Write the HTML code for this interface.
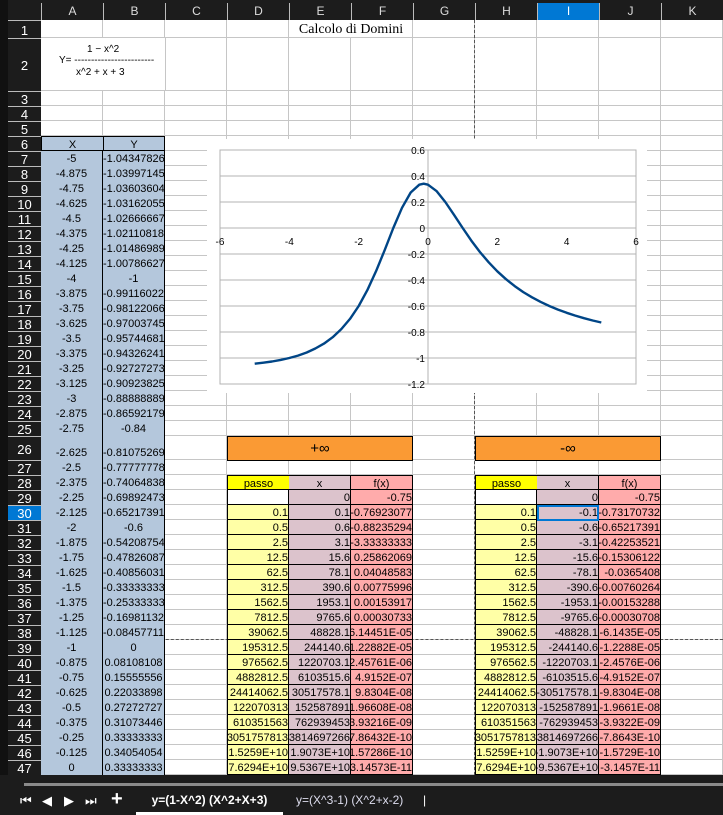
<!DOCTYPE html>
<html><head><meta charset="utf-8">
<style>
html,body{margin:0;padding:0;width:723px;height:815px;overflow:hidden;background:#1c1c1c;font-family:"Liberation Sans",Arial,sans-serif}
#sheet{position:absolute;left:41px;top:20px;width:682px;height:755px;background:#fff;overflow:hidden}
.c{position:absolute;box-sizing:border-box;font-size:11px;color:#000;white-space:nowrap;overflow:hidden;line-height:15px;padding:0 1px}
.r{display:flex;justify-content:flex-end;padding:0}
.g{border-right:1px solid #c6c6c6;border-bottom:1px solid #c6c6c6}
.hd{position:absolute;box-sizing:border-box;color:#ddd;font-size:12px;text-align:center;background:#1c1c1c}
</style></head>
<body>
<div id="sheet"></div>
<div id="hdrs"></div>
<div style="position:absolute;left:0;top:775px;width:723px;height:40px;background:#1c1c1c">
  <div style="position:absolute;left:24px;top:8px;width:699px;height:3px;background:#8a8a8a"></div>
  <div style="position:absolute;left:20px;top:18px;color:#fff;font-size:13px">⏮</div>
  <div style="position:absolute;left:42px;top:18px;color:#fff;font-size:13px">◀</div>
  <div style="position:absolute;left:64px;top:18px;color:#fff;font-size:13px">▶</div>
  <div style="position:absolute;left:85px;top:18px;color:#fff;font-size:13px">⏭</div>
  <div style="position:absolute;left:111px;top:13px;color:#fff;font-size:20px;font-weight:bold">+</div>
  <div style="position:absolute;left:136px;top:18px;width:147px;height:22px;text-align:center;color:#fff;font-size:12px;font-weight:bold;border-bottom:3px solid #fff;box-sizing:border-box">y=(1-X^2) (X^2+X+3)</div>
  <div style="position:absolute;left:296px;top:18px;color:#dde;font-size:12px">y=(X^3-1) (X^2+x-2)</div>
  <div style="position:absolute;left:423px;top:18px;color:#fff;font-size:12px">|</div>
</div>
<script>
const colEdges=[41,103,165,227,289,351,413,475,537,599,661,723];
const colNames=['A','B','C','D','E','F','G','H','I','J','K'];
const xVals=[-5,-4.875,-4.75,-4.625,-4.5,-4.375,-4.25,-4.125,-4,-3.875,-3.75,-3.625,-3.5,-3.375,-3.25,-3.125,-3,-2.875,-2.75,-2.625,-2.5,-2.375,-2.25,-2.125,-2,-1.875,-1.75,-1.625,-1.5,-1.375,-1.25,-1.125,-1,-0.875,-0.75,-0.625,-0.5,-0.375,-0.25,-0.125,0];
const yVals=['-1.04347826','-1.03997145','-1.03603604','-1.03162055','-1.02666667','-1.02110818','-1.01486989','-1.00786627','-1','-0.99116022','-0.98122066','-0.97003745','-0.95744681','-0.94326241','-0.92727273','-0.90923825','-0.88888889','-0.86592179','-0.84','-0.81075269','-0.77777778','-0.74064838','-0.69892473','-0.65217391','-0.6','-0.54208754','-0.47826087','-0.40856031','-0.33333333','-0.25333333','-0.16981132','-0.08457711','0','0.08108108','0.15555556','0.22033898','0.27272727','0.31073446','0.33333333','0.34054054','0.33333333'];
const passo=['','0.1','0.5','2.5','12.5','62.5','312.5','1562.5','7812.5','39062.5','195312.5','976562.5','4882812.5','24414062.5','122070313','610351563','3051757813','1.5259E+10','7.6294E+10'];
const posX=['0','0.1','0.6','3.1','15.6','78.1','390.6','1953.1','9765.6','48828.1','244140.6','1220703.1','6103515.6','30517578.1','152587891','762939453','3814697266','1.9073E+10','9.5367E+10'];
const posF=['-0.75','-0.76923077','-0.88235294','-3.33333333','0.25862069','0.04048583','0.00775996','0.00153917','0.00030733','6.14451E-05','1.22882E-05','2.45761E-06','4.9152E-07','9.8304E-08','1.96608E-08','3.93216E-09','7.86432E-10','1.57286E-10','3.14573E-11'];
const negX=['0','-0.1','-0.6','-3.1','-15.6','-78.1','-390.6','-1953.1','-9765.6','-48828.1','-244140.6','-1220703.1','-6103515.6','-30517578.1','-152587891','-762939453','-3814697266','-1.9073E+10','-9.5367E+10'];
const negF=['-0.75','-0.73170732','-0.65217391','-0.42253521','-0.15306122','-0.0365408','-0.00760264','-0.00153288','-0.00030708','-6.1435E-05','-1.2288E-05','-2.4576E-06','-4.9152E-07','-9.8304E-08','-1.9661E-08','-3.9322E-09','-7.8643E-10','-1.5729E-10','-3.1457E-11'];
// chart series
const chartX=[-5,-4.75,-4.5,-4.25,-4,-3.75,-3.5,-3.25,-3,-2.75,-2.5,-2.25,-2,-1.75,-1.5,-1.25,-1,-0.75,-0.5,-0.25,-0.125,0,0.25,0.5,0.75,1,1.25,1.5,1.75,2,2.25,2.5,2.75,3,3.25,3.5,3.75,4,4.25,4.5,4.75,5];
const chartY=[-1.0435,-1.0360,-1.0267,-1.0149,-1,-0.9812,-0.9574,-0.9273,-0.8889,-0.84,-0.7778,-0.6989,-0.6,-0.4783,-0.3333,-0.1698,0,0.1556,0.2727,0.3333,0.3405,0.3333,0.2830,0.2,0.1014,0,-0.0968,-0.1852,-0.2640,-0.3333,-0.3939,-0.4468,-0.4930,-0.5333,-0.5688,-0.6,-0.6276,-0.6522,-0.6741,-0.6937,-0.7113,-0.7273];
const xTicks=['-6','-4','-2','0','2','4','6'];
const yTicks=['0.6','0.4','0.2','0','-0.2','-0.4','-0.6','-0.8','-1','-1.2'];

function rowTop(r){
  if(r===1)return 20; if(r===2)return 38; if(r<=25)return 91+(r-3)*15;
  if(r===26)return 436; return 460+(r-27)*15;
}
function rowH(r){return rowTop(r+1)-rowTop(r);}
const sheet=document.getElementById('sheet');
const hdrs=document.getElementById('hdrs');
function cell(c,r,text,style,name,inter){
  const el=document.createElement('div');
  el.className='c';
  el.style.left=(colEdges[c]-41)+'px';
  el.style.top=(rowTop(r)-20)+'px';
  el.style.width=(colEdges[c+1]-colEdges[c])+'px';
  el.style.height=rowH(r)+'px';
  el.style.lineHeight=(rowH(r)+1)+'px';
  el.style.cssText+=style||'';
  el.textContent=text;
  
  
  sheet.appendChild(el);
  return el;
}
function rcell(c,r,text,style,name){
  const el=cell(c,r,'',style,name,true);
  el.classList.add('r');
  const s=document.createElement('span');
  s.style.flex='none';
  s.textContent=text;
  el.appendChild(s);
  return el;
}
// grid
for(let r=1;r<=47;r++){for(let c=0;c<11;c++){
  const el=cell(c,r,'','','grid-cell',true);
  el.classList.add('g');
}}
// page break lines
const pbV=document.createElement('div');
pbV.style.cssText='position:absolute;left:433px;top:0;width:0;height:755px;border-left:1px dashed #555';


sheet.appendChild(pbV);
const pbH=document.createElement('div');
pbH.style.cssText='position:absolute;left:0;top:619px;width:682px;height:0;border-top:1px dashed #555';


sheet.appendChild(pbH);
// row 2 formula merged area
const f=document.createElement('div');
f.style.cssText='position:absolute;left:0;top:18px;width:124px;height:52px;background:#fff;border-bottom:1px solid #c6c6c6;border-right:1px solid #c6c6c6;font-size:10px;color:#000';
f.innerHTML='<div style="position:absolute;left:46px;top:6px">1 − x^2</div><div style="position:absolute;left:18px;top:17px">Y= ------------------------</div><div style="position:absolute;left:35px;top:29px">x^2 + x + 3</div>';


sheet.appendChild(f);
// title
const t=document.createElement('div');
t.style.cssText='position:absolute;left:250px;top:0;width:120px;height:17px;background:#fff;text-align:center;font-family:"Liberation Serif",serif;font-size:14px;line-height:20px;color:#000';
t.textContent='Calcolo di Domini';


sheet.appendChild(t);
// X/Y table
const blue='background:#b4c7dc;';
cell(0,6,'X',blue+'text-align:center;border:1px solid #000;border-right:none','x-header',true);
cell(1,6,'Y',blue+'text-align:center;border:1px solid #000','y-header',true);
for(let i=0;i<xVals.length;i++){
  const r=7+i;
  cell(0,r,String(xVals[i]),blue+'text-align:center;border-right:1px solid #000;'+(r===26?'line-height:34px;':''),'x-value-cell',true);
  cell(1,r,yVals[i],blue+'text-align:center;border-right:1px solid #000;padding:0;'+(r===26?'line-height:34px;':''),'y-value-cell',true);
}
// limit tables
function limitTable(c0,label,xs,fs,nm){
  const h=document.createElement('div');
  h.className='c';
  h.style.cssText+='left:'+(colEdges[c0]-41)+'px;top:'+(rowTop(26)-20)+'px;width:'+(colEdges[c0+3]-colEdges[c0])+'px;height:25px;background:#fa9a34;border:1px solid #000;text-align:center;line-height:24px;font-size:15px';
  h.textContent=label;
  
  
  sheet.appendChild(h);
  const bd='border-right:1px solid #000;border-bottom:1px solid #000;';
  cell(c0,28,'passo','background:#ffff00;text-align:center;border:1px solid #000;border-right:none',nm+'-passo-header',true);
  cell(c0+1,28,'x','background:#dcc3cc;text-align:center;border-top:1px solid #000;'+bd,nm+'-x-header',true);
  cell(c0+2,28,'f(x)','background:#ffabab;text-align:center;border-top:1px solid #000;'+bd,nm+'-fx-header',true);
  for(let i=0;i<xs.length;i++){
    const r=29+i;
    rcell(c0,r,passo[i],(i===0?'background:#fff;':'background:#ffffa6;')+'border-left:1px solid #000;'+bd,nm+'-passo-cell');
    rcell(c0+1,r,xs[i],'background:#dcc3cc;'+bd,nm+'-x-cell');
    rcell(c0+2,r,fs[i],'background:#ffabab;'+bd,nm+'-fx-cell');
  }
}
limitTable(3,'+∞',posX,posF,'plus-infinity');
limitTable(7,'-∞',negX,negF,'minus-infinity');
// selection
const sel=document.createElement('div');
sel.style.cssText='position:absolute;box-sizing:border-box;left:'+(colEdges[8]-41)+'px;top:'+(rowTop(30)-20)+'px;width:62px;height:16px;border:2px solid #0078d4';


sheet.appendChild(sel);
// headers
const corner=document.createElement('div');
corner.style.cssText='position:absolute;left:0;top:0;width:8px;height:815px;background:#111';


hdrs.appendChild(corner);
for(let c=0;c<11;c++){
  const h=document.createElement('div');
  h.className='hd';
  const active=c===8;
  h.style.cssText+='left:'+colEdges[c]+'px;top:3px;width:'+(colEdges[c+1]-colEdges[c])+'px;height:17px;line-height:17px;border-left:1px solid #bbb;'+(active?'background:#0078d4;color:#fff;':'');
  h.textContent=colNames[c];
  
  
  hdrs.appendChild(h);
}
for(let r=1;r<=47;r++){
  const h=document.createElement('div');
  h.className='hd';
  const active=r===30;
  h.style.cssText+='left:8px;top:'+rowTop(r)+'px;width:33px;height:'+rowH(r)+'px;line-height:'+(rowH(r)+1)+'px;border-top:1px solid #bbb;font-size:13px;color:#fff;'+(active?'background:#0078d4;':'');
  h.textContent=r;
  
  
  hdrs.appendChild(h);
}
// chart
const NS='http://www.w3.org/2000/svg';
const svg=document.createElementNS(NS,'svg');
svg.setAttribute('width','440');svg.setAttribute('height','254');
svg.style.cssText='position:absolute;left:166px;top:119px;background:#fff';


sheet.appendChild(svg);
const PL=13,PR=429,PT=11,PB=245;
const xMin=-6,xMax=6,yMin=-1.2,yMax=0.6;
function sx(v){return PL+(v-xMin)/(xMax-xMin)*(PR-PL);}
function sy(v){return PT+(yMax-v)/(yMax-yMin)*(PB-PT);}
function mk(tag,attrs,name){const e=document.createElementNS(NS,tag);for(const k in attrs)e.setAttribute(k,attrs[k]);
  
  
  svg.appendChild(e);return e;}
mk('rect',{x:PL,y:PT,width:PR-PL,height:PB-PT,fill:'none',stroke:'#b3b3b3','stroke-width':1},'plot-area');
yTicks.forEach(tk=>{const v=parseFloat(tk);mk('line',{x1:PL,x2:PR,y1:sy(v),y2:sy(v),stroke:'#b3b3b3','stroke-width':1},'y-gridline');});
mk('line',{x1:sx(0),x2:sx(0),y1:PT,y2:PB,stroke:'#b3b3b3','stroke-width':1},'y-axis-line');
yTicks.forEach(tk=>{const v=parseFloat(tk);const e=mk('text',{x:sx(0)-3,y:sy(v)+4,'text-anchor':'end','font-size':'10','font-family':'Liberation Sans, sans-serif',fill:'#000'},'y-tick-label');e.textContent=tk;});
xTicks.forEach(tk=>{const v=parseFloat(tk);const e=mk('text',{x:sx(v),y:sy(0)+17,'text-anchor':'middle','font-size':'10','font-family':'Liberation Sans, sans-serif',fill:'#000'},'x-tick-label');e.textContent=tk;});
let d='';chartX.forEach((v,i)=>{d+=(i?'L':'M')+sx(v).toFixed(1)+' '+sy(chartY[i]).toFixed(1);});
mk('path',{d:d,fill:'none',stroke:'#004586','stroke-width':2.4,'stroke-linejoin':'round'},'function-curve');
</script>
</body></html>
